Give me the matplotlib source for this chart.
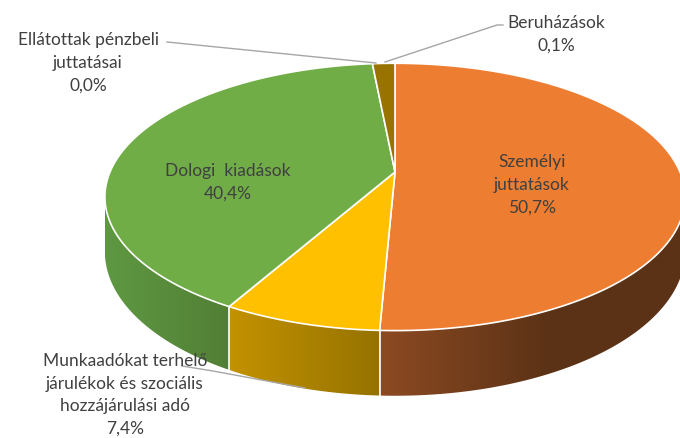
import numpy as np
import matplotlib
matplotlib.use("Agg")
import matplotlib.pyplot as plt
from matplotlib.patches import Polygon
from matplotlib.colors import to_rgb

# data (slice sizes as drawn, labels as printed)
categories = ["Személyi\njuttatások",
              "Munkaadókat terhelő\njárulékok és szociális\nhozzájárulási adó",
              "Dologi  kiadások",
              "Ellátottak pénzbeli\njuttatásai",
              "Beruházások"]
shares = [50.7, 7.4, 40.4, 0.0, 1.5]
pct_labels = ["50,7%", "7,4%", "40,4%", "0,0%", "0,1%"]

top_colors = ["#ED7D31", "#FFC000", "#70AD47", "#A5A5A5", "#997300"]
side_light = ["#8C4A22", "#C49200", "#5E9842", "#7C7C7C", "#735600"]
side_dark = ["#5B3216", "#957200", "#527F35", "#5C5C5C", "#5A4300"]

# pie geometry (pixel units)
cx, cy = 395, 173
A, B, K, H = 285, 129, 0.1866, 53
vis_lo = 90 + np.degrees(np.arcsin(K))
vis_hi = 270 - np.degrees(np.arcsin(K))


def proj(theta, h=0.0):
    t = np.radians(theta)
    u, v = np.sin(t), np.cos(t)
    w = 1 + K * v
    return cx + A * u / w, cy - B * v / w + H * h / w


fig = plt.figure(figsize=(6.8, 4.39), dpi=100)
ax = fig.add_axes([0, 0, 1, 1])
ax.set_xlim(0, 680)
ax.set_ylim(439, 0)
ax.axis("off")

total = sum(shares)
bounds = np.concatenate([[0], np.cumsum(shares) / total * 360])

# side walls
for i in range(len(shares)):
    a0, a1 = max(bounds[i], vis_lo), min(bounds[i + 1], vis_hi)
    if a1 <= a0:
        continue
    th = np.linspace(a0, a1, 200)
    xt, yt = proj(th, 0)
    xb, yb = proj(th, 1)
    pts = np.column_stack([np.concatenate([xt, xb[::-1]]), np.concatenate([yt, yb[::-1]])])
    poly = Polygon(pts, closed=True, facecolor="none", edgecolor="none")
    ax.add_patch(poly)
    x0, x1 = pts[:, 0].min(), pts[:, 0].max()
    f = np.linspace(0, 1, 256)
    if i == 0:
        f = np.clip(f * 1.8, 0, 1)
    c0, c1 = np.array(to_rgb(side_light[i])), np.array(to_rgb(side_dark[i]))
    img = (c0[None, :] * (1 - f[:, None]) + c1[None, :] * f[:, None])[None, :, :]
    im = ax.imshow(img, extent=[x0, x1, pts[:, 1].max() + 1, pts[:, 1].min() - 1],
                   aspect="auto", interpolation="bilinear", zorder=1)
    im.set_clip_path(poly)

# white seams on the side
for b in bounds:
    if vis_lo < b < vis_hi:
        xs, ys = zip(proj(b, 0), proj(b, 1))
        ax.plot(xs, ys, color="white", lw=1.2, zorder=2)

# top face
for i in range(len(shares)):
    if shares[i] <= 0:
        continue
    th = np.linspace(bounds[i], bounds[i + 1], 300)
    xt, yt = proj(th, 0)
    pts = np.column_stack([np.concatenate([[cx], xt]), np.concatenate([[cy], yt])])
    ax.add_patch(Polygon(pts, closed=True, facecolor=top_colors[i],
                         edgecolor="white", lw=1.2, zorder=3))

# labels
txt = dict(ha="center", va="center", fontsize=12.5, color="#404040",
           family=["Lato", "DejaVu Sans"], linespacing=1.5, zorder=5)
ax.text(532, 185, categories[0] + "\n" + pct_labels[0], **txt)
ax.text(228, 182, categories[2] + "\n" + pct_labels[2], **txt)
ax.text(88, 63, categories[3] + "\n" + pct_labels[3], **txt)
ax.text(556, 34, categories[4] + "\n" + pct_labels[4], **txt)
ax.text(125, 395, categories[1] + "\n" + pct_labels[1], **txt)

# leader lines
lc = dict(color="#A6A6A6", lw=1, zorder=4)
ax.plot([167, 376], [43, 64], **lc)
ax.plot([385, 497, 503], [63, 26, 26], **lc)
ax.plot([182, 213, 305], [367, 372, 389], **lc)

fig.savefig("out.png", dpi=100)
